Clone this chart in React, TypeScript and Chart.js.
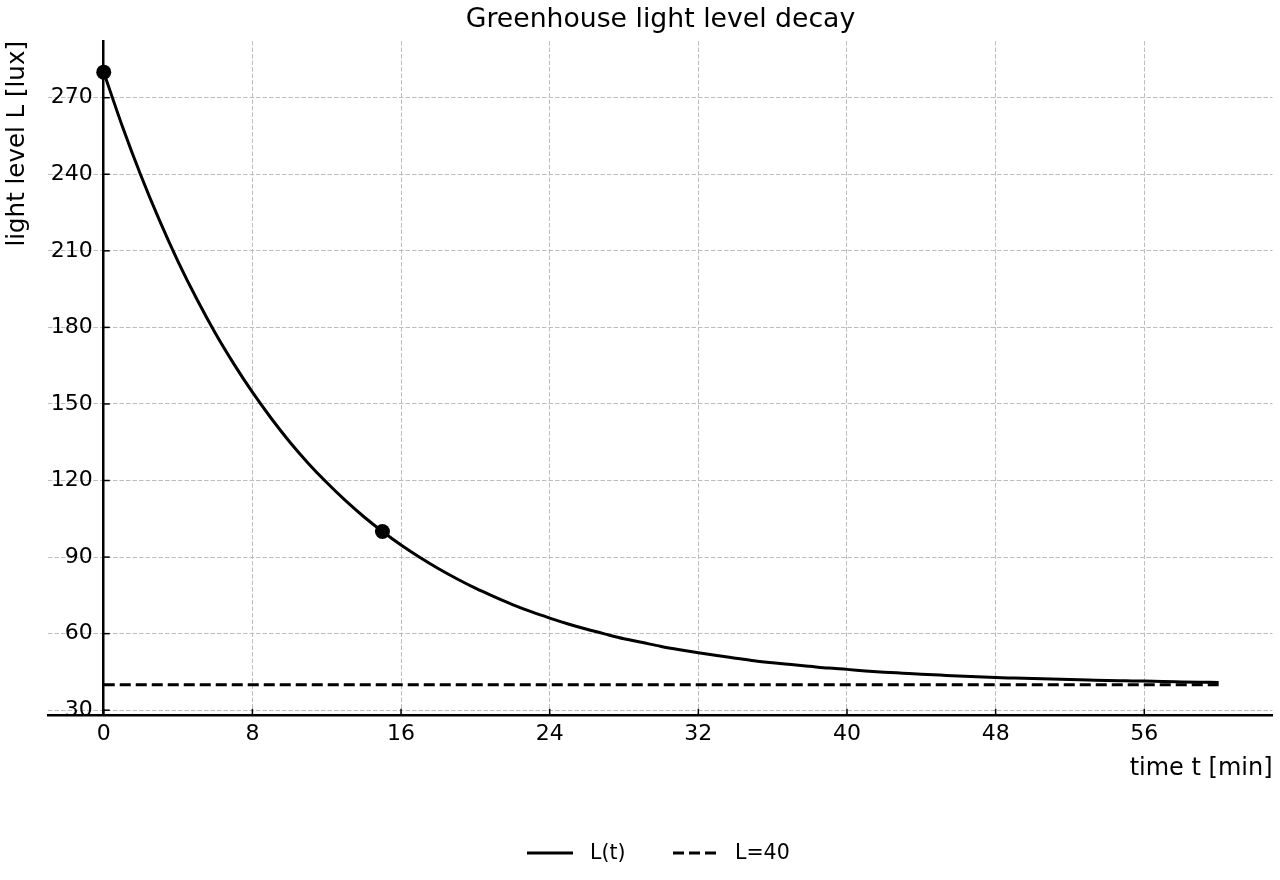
import { useEffect, useRef } from "react";
import { Chart, registerables } from "chart.js";

Chart.register(...registerables);

// ---- data ----
const timeMin = [
  0, 1, 2, 3, 4, 5, 6, 7, 8, 9, 10, 11, 12, 13, 14, 15, 16, 17, 18, 19, 20,
  21, 22, 23, 24, 25, 26, 27, 28, 29, 30, 31, 32, 33, 34, 35, 36, 37, 38, 39, 40,
  41, 42, 43, 44, 45, 46, 47, 48, 49, 50, 51, 52, 53, 54, 55, 56, 57, 58, 59, 60,
];
const lightLux = [
  280, 258.8, 239.5, 221.9, 205.8, 191.2, 177.8, 165.7, 154.6, 144.5, 135.2,
  126.8, 119.2, 112.2, 105.8, 100, 94.7, 89.9, 85.5, 81.5, 77.8,
  74.5, 71.4, 68.6, 66.1, 63.8, 61.7, 59.8, 58.0, 56.5, 55.0,
  53.7, 52.5, 51.4, 50.4, 49.4, 48.6, 47.9, 47.2, 46.5, 46.0,
  45.4, 44.9, 44.5, 44.1, 43.75, 43.4, 43.1, 42.8, 42.6, 42.4,
  42.2, 42.0, 41.8, 41.6, 41.5, 41.4, 41.2, 41.1, 41.0, 40.9,
];
const thresholdTime = [0, 60];
const thresholdLux = [40, 40];
const markedTime = [0, 15];
const markedLux = [280, 100];

const xTickValues = [0, 8, 16, 24, 32, 40, 48, 56];
const yTickValues = [30, 60, 90, 120, 150, 180, 210, 240, 270];

const chartTitle = "Greenhouse light level decay";
const xAxisTitle = "time t [min]";
const yAxisTitle = "light level L [lux]";
const seriesNames = ["L(t)", "L=40"];

const FONT = '"DejaVu Sans", "Liberation Sans", sans-serif';

const decorPlugin = {
  id: "decor",
  afterDatasetsDraw(chart: any) {
    const { ctx, chartArea, scales } = chart;
    const xs = scales.x;
    const ys = scales.y;
    const x0 = xs.getPixelForValue(0);

    // y tick labels, left of the y axis line placed at x = 0
    ctx.save();
    ctx.fillStyle = "#000";
    ctx.font = `22px ${FONT}`;
    ctx.textAlign = "right";
    ctx.textBaseline = "middle";
    yTickValues.forEach((v) => {
      ctx.fillText(String(v), x0 - 11, ys.getPixelForValue(v));
    });
    ctx.restore();

    // inward tick marks
    ctx.save();
    ctx.strokeStyle = "#000";
    ctx.lineWidth = 1.5;
    ctx.setLineDash([]);
    yTickValues.forEach((v) => {
      const py = ys.getPixelForValue(v);
      ctx.beginPath();
      ctx.moveTo(x0, py);
      ctx.lineTo(x0 + 6, py);
      ctx.stroke();
    });
    xTickValues.forEach((v) => {
      const px = xs.getPixelForValue(v);
      ctx.beginPath();
      ctx.moveTo(px, chartArea.bottom);
      ctx.lineTo(px, chartArea.bottom - 6);
      ctx.stroke();
    });
    ctx.restore();

    // y axis title (rotated, aligned to top)
    ctx.save();
    ctx.fillStyle = "#000";
    ctx.font = `24.5px ${FONT}`;
    ctx.translate(18, chartArea.top);
    ctx.rotate(-Math.PI / 2);
    ctx.textAlign = "right";
    ctx.textBaseline = "middle";
    ctx.fillText(yAxisTitle, 0, 0);
    ctx.restore();

    // legend
    ctx.save();
    const ly = 853;
    ctx.strokeStyle = "#000";
    ctx.fillStyle = "#000";
    ctx.lineWidth = 3;
    ctx.font = `20.5px ${FONT}`;
    ctx.textAlign = "left";
    ctx.textBaseline = "middle";
    ctx.setLineDash([]);
    ctx.beginPath();
    ctx.moveTo(527, ly);
    ctx.lineTo(573, ly);
    ctx.stroke();
    ctx.fillText(seriesNames[0], 590, ly + 1);
    ctx.setLineDash([11, 5]);
    ctx.beginPath();
    ctx.moveTo(673, ly);
    ctx.lineTo(718, ly);
    ctx.stroke();
    ctx.setLineDash([]);
    ctx.fillText(seriesNames[1], 735, ly + 1);
    ctx.restore();
  },
};

export default function App() {
  const canvasRef = useRef<HTMLCanvasElement | null>(null);

  useEffect(() => {
    const canvas = canvasRef.current;
    if (!canvas) return;
    Chart.defaults.font.family = FONT;
    Chart.defaults.color = "#000";

    const chart = new Chart(canvas, {
      type: "line",
      data: {
        datasets: [
          {
            label: seriesNames[0],
            data: timeMin.map((t, i) => ({ x: t, y: lightLux[i] })),
            borderColor: "#000",
            borderWidth: 3,
            pointRadius: 0,
            cubicInterpolationMode: "monotone",
            fill: false,
          },
          {
            label: seriesNames[1],
            data: thresholdTime.map((t, i) => ({ x: t, y: thresholdLux[i] })),
            borderColor: "#000",
            borderWidth: 3,
            borderDash: [11, 5],
            pointRadius: 0,
            fill: false,
          },
          {
            label: "points",
            data: markedTime.map((t, i) => ({ x: t, y: markedLux[i] })),
            showLine: false,
            pointRadius: 7.5,
            pointBackgroundColor: "#000",
            pointBorderColor: "#000",
            borderWidth: 0,
          },
        ],
      },
      options: {
        responsive: false,
        animation: false,
        devicePixelRatio: 1,
        layout: { padding: { left: 48, right: 7, top: 0, bottom: 97 } },
        plugins: {
          legend: { display: false },
          tooltip: { enabled: false },
          title: {
            display: true,
            text: chartTitle,
            color: "#000",
            font: { size: 26.7, weight: "normal", family: FONT },
            padding: { top: 4, bottom: 5 },
          },
        },
        scales: {
          x: {
            type: "linear",
            position: "bottom",
            min: -3,
            max: 62.9,
            afterBuildTicks: (s: any) => {
              s.ticks = xTickValues.map((v) => ({ value: v }));
            },
            ticks: {
              font: { size: 22, family: FONT },
              color: "#000",
              padding: 6,
              maxRotation: 0,
              autoSkip: false,
            },
            grid: {
              color: "#bdbdbd",
              lineWidth: 1,
              drawTicks: false,
            },
            border: { display: true, color: "#000", width: 2.5, dash: [4.5, 2] },
            title: {
              display: true,
              text: xAxisTitle,
              align: "end",
              color: "#000",
              font: { size: 24, family: FONT },
              padding: { top: 1, bottom: 0 },
            },
          },
          y: {
            type: "linear",
            position: { x: 0 },
            min: 28.2,
            max: 292.2,
            afterBuildTicks: (s: any) => {
              s.ticks = yTickValues.map((v) => ({ value: v }));
            },
            ticks: {
              display: false,
            },
            grid: {
              color: "#bdbdbd",
              lineWidth: 1,
              drawTicks: false,
            },
            border: { display: true, color: "#000", width: 2.5, dash: [4.5, 2] },
          },
        },
      } as any,
      plugins: [decorPlugin],
    });
    return () => chart.destroy();
  }, []);

  return (
    <div style={{ position: "fixed", left: 0, top: 0, width: 1280, height: 880, background: "#fff" }}>
      <canvas ref={canvasRef} width={1280} height={880} />
    </div>
  );
}
